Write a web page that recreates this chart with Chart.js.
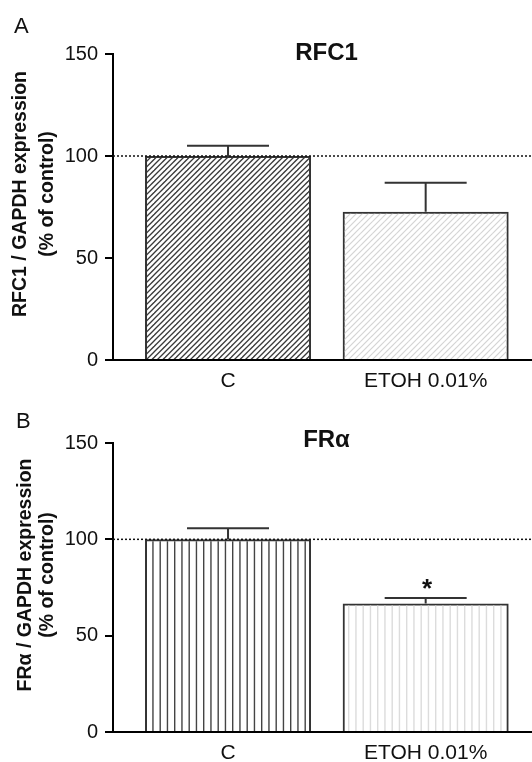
<!DOCTYPE html>
<html><head><meta charset="utf-8">
<script src="https://cdn.jsdelivr.net/npm/chart.js@4.4.1/dist/chart.umd.min.js"></script>
<style>
html,body{margin:0;padding:0;background:#fff;}
#wrap{position:relative;width:532px;height:762px;overflow:hidden;}
canvas{position:absolute;left:0;}
</style></head><body>
<div id="wrap">
<canvas id="cA" width="532" height="395" style="top:0"></canvas>
<canvas id="cB" width="532" height="367" style="top:395px"></canvas>
</div>
<script>
// ---- data ----
const categories = ['C', 'ETOH 0.01%'];
const rfc1Values = [100, 72.7];
const rfc1Errors = [5, 14.2];
const rfc1Marks = ['', ''];
const fraValues = [100, 66.7];
const fraErrors = [5.7, 2.9];
const fraMarks = ['', '*'];
const yTickValues = [0, 50, 100, 150];
const referenceLevel = 100;

const FONT = "'Liberation Sans', Arial, Helvetica, sans-serif";

function diagPattern(period, color, width) {
  const s = Math.round(period * 2);
  const c = document.createElement('canvas'); c.width = s; c.height = s;
  const g = c.getContext('2d');
  g.strokeStyle = color; g.lineWidth = width;
  for (let k = -2; k <= 6; k++) {
    const cc = k * period;
    g.beginPath(); g.moveTo(cc + 6, -6); g.lineTo(-6, cc + 6); g.stroke();
  }
  return g.createPattern(c, 'repeat');
}
function vertPattern(color, width) {
  const w = 29;
  const c = document.createElement('canvas'); c.width = w; c.height = 4;
  const g = c.getContext('2d');
  g.fillStyle = color;
  [0, 7.25, 14.5, 21.75].forEach(p => g.fillRect(p, 0, width, 4));
  return g.createPattern(c, 'repeat');
}

const annot = {
  id: 'annot',
  afterDatasetsDraw(chart, args, o) {
    const ctx = chart.ctx, ys = chart.scales.y, a = chart.chartArea;
    ctx.save();
    const yr = ys.getPixelForValue(o.ref);
    ctx.setLineDash([2, 2]); ctx.lineWidth = 1.5; ctx.strokeStyle = '#111';
    ctx.beginPath(); ctx.moveTo(a.left, yr); ctx.lineTo(a.right, yr); ctx.stroke();
    ctx.setLineDash([]);
    const meta = chart.getDatasetMeta(0);
    ctx.strokeStyle = '#333'; ctx.lineWidth = 2;
    o.errors.forEach((e, i) => {
      const bar = meta.data[i];
      const x = bar.x, y0 = bar.y, y1 = ys.getPixelForValue(o.values[i] + e);
      ctx.beginPath(); ctx.moveTo(x, y0); ctx.lineTo(x, y1);
      ctx.moveTo(x - 41, y1); ctx.lineTo(x + 41, y1); ctx.stroke();
      if (o.marks[i]) {
        ctx.fillStyle = '#111'; ctx.font = 'bold 26px ' + FONT;
        ctx.textAlign = 'center'; ctx.textBaseline = 'alphabetic';
        ctx.fillText(o.marks[i], x + 1.5, y1 - 1);
      }
    });
    ctx.restore();
  },
  afterDraw(chart, args, o) {
    const ctx = chart.ctx;
    ctx.save();
    ctx.fillStyle = '#111';
    ctx.textBaseline = 'alphabetic';
    ctx.font = '22px ' + FONT; ctx.textAlign = 'left';
    ctx.fillText(o.letter, o.letterX, 33);
    ctx.font = 'bold 24px ' + FONT; ctx.textAlign = 'center';
    ctx.fillText(o.title, 326.5, o.titleY);
    ctx.font = 'bold 19.5px ' + FONT;
    [[o.y1, o.y1x], [o.y2, 53]].forEach(([t, bx]) => {
      ctx.save(); ctx.translate(bx, o.ycy); ctx.rotate(-Math.PI / 2);
      ctx.fillText(t, 0, 0); ctx.restore();
    });
    ctx.restore();
  }
};

function makeChart(id, values, errors, marks, fills, xAxisHeight, padTop, text) {
  return new Chart(document.getElementById(id), {
    type: 'bar',
    data: {
      datasets: [{
        data: values.map((v, i) => ({ x: i + 1, y: v })),
        backgroundColor: fills,
        borderColor: '#333',
        borderWidth: 2,
        barPercentage: 0.84,
        categoryPercentage: 1.0
      }]
    },
    options: {
      responsive: false, animation: false,
      layout: { padding: { top: padTop, left: 0, right: 0, bottom: 0 } },
      plugins: {
        legend: { display: false }, tooltip: { enabled: false },
        annot: Object.assign({ ref: referenceLevel, values, errors, marks }, text)
      },
      scales: {
        x: {
          type: 'linear', min: 0.418, max: 2.538, offset: false,
          afterBuildTicks: s => { s.ticks = categories.map((c, i) => ({ value: i + 1 })); },
          afterFit: s => { s.height = xAxisHeight; },
          grid: { display: true, drawOnChartArea: false, drawTicks: false, offset: false },
          border: { display: true, color: '#000', width: 2 },
          ticks: { padding: 9, color: '#111', font: { family: FONT, size: 21 },
                   maxRotation: 0, autoSkip: false,
                   callback: v => categories[Math.round(v) - 1] }
        },
        y: {
          min: 0, max: 150,
          afterBuildTicks: s => { s.ticks = yTickValues.map(v => ({ value: v })); },
          afterFit: s => { s.width = 113; },
          grid: { drawOnChartArea: false, drawTicks: true, tickLength: 8, color: '#000', lineWidth: 2 },
          border: { display: true, color: '#000', width: 2 },
          ticks: { padding: 7, color: '#111', font: { family: FONT, size: 20 } }
        }
      }
    },
    plugins: [annot]
  });
}

makeChart('cA', rfc1Values, rfc1Errors, rfc1Marks,
  [diagPattern(5.5, '#3a3a3a', 1.3), diagPattern(6, '#d4d4d4', 1.2)], 35, 54,
  { letter: 'A', letterX: 14, title: 'RFC1', titleY: 60,
    y1: 'RFC1 / GAPDH expression', y1x: 26, y2: '(% of control)', ycy: 194 });
makeChart('cB', fraValues, fraErrors, fraMarks,
  [vertPattern('#444', 1.4), vertPattern('#dcdcdc', 1.4)], 30, 48,
  { letter: 'B', letterX: 16, title: 'FR\u03B1', titleY: 52,
    y1: 'FR\u03B1 / GAPDH expression', y1x: 31, y2: '(% of control)', ycy: 180 });
</script>
</body></html>
